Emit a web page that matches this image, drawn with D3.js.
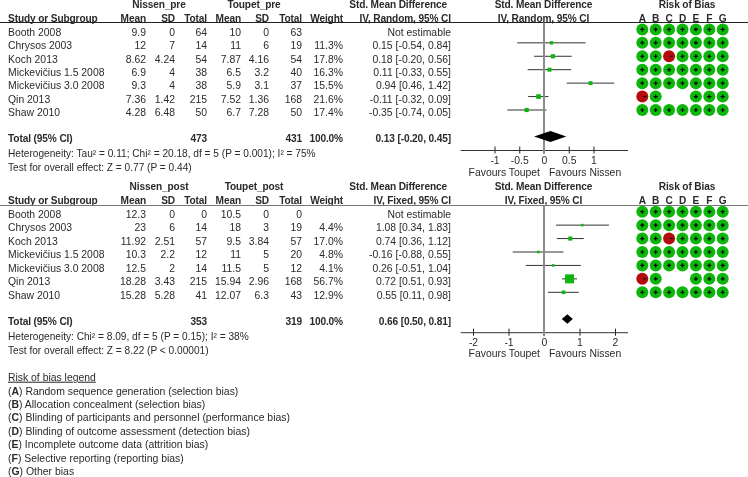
<!DOCTYPE html>
<html><head><meta charset="utf-8">
<script src="https://cdn.jsdelivr.net/npm/d3@7"></script>
<style>
html,body{margin:0;padding:0;background:#fff}
svg{display:block;filter:blur(0.35px)}
text{font-family:"Liberation Sans",Arial,sans-serif;font-size:10.4px;fill:#2a2a2a}
text.b{font-weight:bold;font-size:10.15px;letter-spacing:-0.12px}
text.n{font-size:10.15px}
tspan.b{font-weight:bold}
</style></head><body>
<svg id="c" width="748" height="477"></svg>
<script>
const studies=["Booth 2008","Chrysos 2003","Koch 2013","Mickevičius 1.5 2008","Mickevičius 3.0 2008","Qin 2013","Shaw 2010"];
const riskCols=["A","B","C","D","E","F","G"];
const riskRows=["+++++++","+++++++","++-++++","+++++++","+++++++","-+  +++","+++++++"];

const preMean1=["9.9","12","8.62","6.9","9.3","7.36","4.28"];
const preSd1=["0","7","4.24","4","4","1.42","6.48"];
const preN1=["64","14","54","38","38","215","50"];
const preMean2=["10","11","7.87","6.5","5.9","7.52","6.7"];
const preSd2=["0","6","4.16","3.2","3.1","1.36","7.28"];
const preN2=["63","19","54","40","37","168","50"];
const preWeight=[null,11.3,17.8,16.3,15.5,21.6,17.4];
const preEst=[null,0.15,0.18,0.11,0.94,-0.11,-0.35];
const preLo=[null,-0.54,-0.20,-0.33,0.46,-0.32,-0.74];
const preHi=[null,0.84,0.56,0.55,1.42,0.09,0.05];
const preCI=["Not estimable","0.15 [-0.54, 0.84]","0.18 [-0.20, 0.56]","0.11 [-0.33, 0.55]","0.94 [0.46, 1.42]","-0.11 [-0.32, 0.09]","-0.35 [-0.74, 0.05]"];
const preTotal={n1:"473",n2:"431",w:"100.0%",ci:"0.13 [-0.20, 0.45]",est:0.13,lo:-0.20,hi:0.45};
const preNotes=["Heterogeneity: Tau² = 0.11; Chi² = 20.18, df = 5 (P = 0.001); I² = 75%","Test for overall effect: Z = 0.77 (P = 0.44)"];
const preTicks=[-1,-0.5,0,0.5,1];

const postMean1=["12.3","23","11.92","10.3","12.5","18.28","15.28"];
const postSd1=["0","6","2.51","2.2","2","3.43","5.28"];
const postN1=["0","14","57","12","14","215","41"];
const postMean2=["10.5","18","9.5","11","11.5","15.94","12.07"];
const postSd2=["0","3","3.84","5","5","2.96","6.3"];
const postN2=["0","19","57","20","12","168","43"];
const postWeight=[null,4.4,17.0,4.8,4.1,56.7,12.9];
const postEst=[null,1.08,0.74,-0.16,0.26,0.72,0.55];
const postLo=[null,0.34,0.36,-0.88,-0.51,0.51,0.11];
const postHi=[null,1.83,1.12,0.55,1.04,0.93,0.98];
const postCI=["Not estimable","1.08 [0.34, 1.83]","0.74 [0.36, 1.12]","-0.16 [-0.88, 0.55]","0.26 [-0.51, 1.04]","0.72 [0.51, 0.93]","0.55 [0.11, 0.98]"];
const postTotal={n1:"353",n2:"319",w:"100.0%",ci:"0.66 [0.50, 0.81]",est:0.66,lo:0.50,hi:0.81};
const postNotes=["Heterogeneity: Chi² = 8.09, df = 5 (P = 0.15); I² = 38%","Test for overall effect: Z = 8.22 (P < 0.00001)"];
const postTicks=[-2,-1,0,1,2];

const legendTitle="Risk of bias legend";
const legendItems=["Random sequence generation (selection bias)","Allocation concealment (selection bias)","Blinding of participants and personnel (performance bias)","Blinding of outcome assessment (detection bias)","Incomplete outcome data (attrition bias)","Selective reporting (reporting bias)","Other bias"];

const svg=d3.select("#c");
const GREEN="#0db50d",RED="#b50d0d";
function txt(g,x,y,s,anchor,cls){return g.append("text").attr("x",x).attr("y",y).attr("text-anchor",anchor||"start").attr("class",cls||null).text(s);}
const sizeScale=d3.scaleLinear().domain([4,56.7]).range([2.5,9]);
const colX={mean1:146,sd1:175,n1:207,mean2:241,sd2:269,n2:302,w:343,ci:451};
const riskX=d3.scalePoint().domain(riskCols).range([642.3,722.7]);

function panel(o){
  const g=svg.append("g");
  const rowY=d3.scalePoint().domain(d3.range(studies.length)).range([o.top,o.top+80.6]);
  const x=d3.scaleLinear().domain(o.domain).range(o.range);
  const base=y=>y+6.3;
  txt(g,159,o.h1,o.group1,"middle","b");txt(g,254,o.h1,o.group2,"middle","b");
  txt(g,447,o.h1,"Std. Mean Difference","end","b");
  txt(g,543.5,o.h1,"Std. Mean Difference","middle","b");
  txt(g,687,o.h1,"Risk of Bias","middle","b");
  txt(g,8,o.h2,"Study or Subgroup","start","b");
  [["Mean",146],["SD",175],["Total",207],["Mean",241],["SD",269],["Total",302],["Weight",343]].forEach(d=>txt(g,d[1],o.h2,d[0],"end","b"));
  txt(g,451,o.h2,o.method,"end","b");txt(g,543.5,o.h2,o.method,"middle","b");
  riskCols.forEach(c=>txt(g,riskX(c),o.h2,c,"middle","b"));
  g.append("line").attr("x1",0).attr("x2",748).attr("y1",o.rule).attr("y2",o.rule).attr("stroke",o.ruleColor).attr("stroke-width",1);

  studies.forEach((s,i)=>{
    const y=base(rowY(i));
    txt(g,8,y,s);
    txt(g,colX.mean1,y,o.mean1[i],"end");txt(g,colX.sd1,y,o.sd1[i],"end");txt(g,colX.n1,y,o.n1[i],"end");
    txt(g,colX.mean2,y,o.mean2[i],"end");txt(g,colX.sd2,y,o.sd2[i],"end");txt(g,colX.n2,y,o.n2[i],"end");
    if(o.weight[i]!=null)txt(g,colX.w,y,o.weight[i].toFixed(1)+"%","end");
    txt(g,colX.ci,y,o.ci[i],"end");
  });
  const ty=o.totalY;
  txt(g,8,ty,"Total (95% CI)","start","b");
  txt(g,colX.n1,ty,o.total.n1,"end","b");txt(g,colX.n2,ty,o.total.n2,"end","b");
  txt(g,colX.w,ty,o.total.w,"end","b");txt(g,colX.ci,ty,o.total.ci,"end","b");
  o.notes.forEach((n,i)=>txt(g,8,o.noteY+i*14,n,"start","n"));

  studies.forEach((s,i)=>{
    if(o.est[i]==null)return;
    const y=rowY(i);
    g.append("line").attr("x1",x(o.lo[i])).attr("x2",x(o.hi[i])).attr("y1",y).attr("y2",y).attr("stroke","#333").attr("stroke-width",1);
  });
  const ax=d3.axisBottom(x).tickValues(o.ticks).tickFormat(d=>String(d)).tickSize(0).tickPadding(6);
  const ag=g.append("g").attr("transform",`translate(0,${o.axisY})`).call(ax);
  ag.select(".domain").remove();
  ag.attr("font-size",null).attr("font-family",null);
  ag.selectAll(".tick line").remove();
  ag.selectAll(".tick").append("line").attr("y1",-4).attr("y2",3).attr("stroke","#222");
  ag.append("line").attr("x1",460.7).attr("x2",628).attr("stroke","#333");
  g.append("line").attr("x1",x(0)).attr("x2",x(0)).attr("y1",o.rule).attr("y2",o.axisY+3.5).attr("stroke","#8c8c8c").attr("stroke-width",2);
  studies.forEach((s,i)=>{
    if(o.est[i]==null)return;
    const y=rowY(i),w=sizeScale(o.weight[i]);
    g.append("rect").attr("x",x(o.est[i])-w/2).attr("y",y-w/2).attr("width",w).attr("height",w).attr("fill",GREEN);
  });
  const dy=o.diamondY;
  g.append("path").attr("fill","#000").attr("d",d3.line()([[x(o.total.lo),dy],[x(o.total.est),dy-o.diamondH],[x(o.total.hi),dy],[x(o.total.est),dy+o.diamondH]])+"Z");
  txt(g,540,o.favY,"Favours Toupet","end");
  txt(g,549,o.favY,"Favours Nissen","start");

  riskRows.forEach((r,i)=>{
    const y=rowY(i);
    riskCols.forEach((c,j)=>{
      const v=r[j];
      if(v===" ")return;
      const cx=riskX(c);
      g.append("circle").attr("cx",cx).attr("cy",y).attr("r",6).attr("fill",v==="+"?GREEN:RED);
      if(v==="+"){
        g.append("path").attr("d",`M${cx-2},${y}H${cx+2}M${cx},${y-2}V${y+2}`).attr("stroke","#000").attr("stroke-width",1.2).attr("fill","none");
      } else {
        g.append("path").attr("d",`M${cx+1},${y}H${cx+4}`).attr("stroke","#000").attr("stroke-width",1).attr("fill","none");
      }
    });
  });
}

panel({top:29.4,h1:8,h2:21.6,rule:22.5,ruleColor:"#222",group1:"Nissen_pre",group2:"Toupet_pre",method:"IV, Random, 95% CI",
  mean1:preMean1,sd1:preSd1,n1:preN1,mean2:preMean2,sd2:preSd2,n2:preN2,weight:preWeight,est:preEst,lo:preLo,hi:preHi,ci:preCI,total:preTotal,notes:preNotes,ticks:preTicks,
  domain:[-1,1],range:[494.5,593.5],axisY:150.5,totalY:141.7,noteY:156.7,diamondY:136.5,diamondH:5.5,favY:175.7});
panel({top:211.7,h1:190,h2:204,rule:205.5,ruleColor:"#777",group1:"Nissen_post",group2:"Toupet_post",method:"IV, Fixed, 95% CI",
  mean1:postMean1,sd1:postSd1,n1:postN1,mean2:postMean2,sd2:postSd2,n2:postN2,weight:postWeight,est:postEst,lo:postLo,hi:postHi,ci:postCI,total:postTotal,notes:postNotes,ticks:postTicks,
  domain:[-2,2],range:[473,615],axisY:332.7,totalY:324.7,noteY:339.7,diamondY:319,diamondH:4.7,favY:356.7});

const lg=svg.append("g");
txt(lg,8,380.7,legendTitle).attr("text-decoration","underline");
legendItems.forEach((s,i)=>{
  const t=lg.append("text").attr("x",8).attr("y",394.5+i*13.45).style("font-size","10.45px");
  t.append("tspan").text("(");
  t.append("tspan").attr("class","b").text(riskCols[i]);
  t.append("tspan").text(") "+s);
});
</script></body></html>
